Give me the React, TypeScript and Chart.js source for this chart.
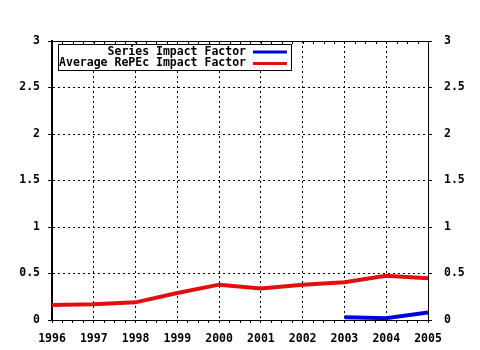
import React, { useEffect, useRef } from "react";
import { Chart, registerables } from "chart.js";

Chart.register(...registerables);

const years = [1996, 1997, 1998, 1999, 2000, 2001, 2002, 2003, 2004, 2005];
const seriesImpact: (number | null)[] = [null, null, null, null, null, null, null, 0.03, 0.02, 0.08];
const averageImpact = [0.16, 0.17, 0.19, 0.29, 0.38, 0.34, 0.38, 0.405, 0.475, 0.45];
const yTicks = [0, 0.5, 1, 1.5, 2, 2.5, 3];
const seriesLabels = ["Series Impact Factor", "Average RePEc Impact Factor"];
const seriesColors = ["#0000dd", "#e01010"];

const FONT = "'DejaVu Sans Mono', monospace";

const fmt = (v: number) => String(v);

const legendPlugin = {
  id: "customLegend",
  afterDraw(chart: any) {
    const ctx = chart.ctx;
    const ds = chart.data.datasets;
    ctx.save();
    ctx.fillStyle = "#ffffff";
    ctx.fillRect(58, 44, 234, 27);
    ctx.strokeStyle = "#000";
    ctx.lineWidth = 1;
    ctx.strokeRect(58.5, 44.5, 233, 26);
    ctx.font = `bold 11.5px ${FONT}`;
    ctx.textAlign = "right";
    ctx.textBaseline = "middle";
    ds.forEach((d: any, i: number) => {
      const y = 52 + i * 11.5;
      ctx.fillStyle = "#000";
      ctx.fillText(d.label, 246, y);
      ctx.strokeStyle = d.borderColor;
      ctx.lineWidth = 3;
      ctx.beginPath();
      ctx.moveTo(253, y);
      ctx.lineTo(287, y);
      ctx.stroke();
    });
    ctx.restore();
  },
};

const topTicksPlugin = {
  id: "topTicks",
  afterDatasetsDraw(chart: any) {
    const ctx = chart.ctx;
    const x = chart.scales.x;
    const area = chart.chartArea;
    ctx.save();
    ctx.strokeStyle = "#000";
    ctx.lineWidth = 1;
    ctx.beginPath();
    ctx.moveTo(area.left - 4, area.top + 0.5);
    ctx.lineTo(area.right + 4, area.top + 0.5);
    ctx.stroke();
    x.ticks.forEach((t: any) => {
      const px = Math.round(x.getPixelForValue(t.value)) + 0.5;
      ctx.beginPath();
      ctx.moveTo(px, area.top);
      ctx.lineTo(px, area.top + 3);
      ctx.stroke();
    });
    ctx.restore();
  },
};

export default function App() {
  const ref = useRef<HTMLCanvasElement>(null);
  useEffect(() => {
    document.body.style.margin = "0";
    const chart = new Chart(ref.current!, {
      type: "line",
      data: {
        datasets: [
          {
            label: seriesLabels[0],
            data: years.map((yr, i) => ({ x: yr, y: seriesImpact[i] })),
            borderColor: seriesColors[0],
            backgroundColor: seriesColors[0],
            borderWidth: 4,
            pointRadius: 0,
            tension: 0,
            spanGaps: false,
          },
          {
            label: seriesLabels[1],
            data: years.map((yr, i) => ({ x: yr, y: averageImpact[i] })),
            borderColor: seriesColors[1],
            backgroundColor: seriesColors[1],
            borderWidth: 4,
            pointRadius: 0,
            tension: 0,
          },
        ] as any,
      },
      options: {
        animation: false,
        responsive: false,
        layout: { padding: { top: 41, left: 0, right: 0, bottom: 0 } },
        plugins: { legend: { display: false }, tooltip: { enabled: false } },
        scales: {
          x: {
            type: "linear",
            min: years[0],
            max: years[years.length - 1],
            afterBuildTicks: (s: any) => {
              const t: any[] = [];
              for (let v = years[0]; v <= years[years.length - 1] + 1e-9; v += 0.25) t.push({ value: v });
              s.ticks = t;
            },
            afterFit: (s: any) => {
              s.height = 30;
            },
            ticks: {
              autoSkip: false,
              maxRotation: 0,
              padding: 9,
              color: "#000",
              font: { family: FONT, size: 11.5, weight: "bold" },
              callback: (v: any) => (Number.isInteger(v) ? String(v) : ""),
            },
            grid: {
              color: (c: any) => (c.tick && Number.isInteger(c.tick.value) ? "#000" : "rgba(0,0,0,0)"),
              tickColor: "#000",
              tickLength: 3,
              lineWidth: 1,
              drawTicks: true,
            },
            border: { display: true, color: "#000", width: 1, dash: [2, 3] },
          } as any,
          y: {
            type: "linear",
            position: "left",
            min: 0,
            max: 3,
            afterBuildTicks: (s: any) => {
              s.ticks = yTicks.map((v) => ({ value: v }));
            },
            afterFit: (s: any) => {
              s.width = 52;
            },
            ticks: {
              padding: 8,
              color: "#000",
              font: { family: FONT, size: 11.5, weight: "bold" },
              callback: (v: any) => fmt(v),
            },
            grid: { color: "#000", tickColor: "#000", tickLength: 4, lineWidth: 1 },
            border: { display: true, color: "#000", width: 2, dash: [2, 3] },
          } as any,
          y2: {
            type: "linear",
            position: "right",
            min: 0,
            max: 3,
            afterBuildTicks: (s: any) => {
              s.ticks = yTicks.map((v) => ({ value: v }));
            },
            afterFit: (s: any) => {
              s.width = 52;
            },
            ticks: {
              padding: 12,
              color: "#000",
              font: { family: FONT, size: 11.5, weight: "bold" },
              callback: (v: any) => fmt(v),
            },
            grid: { drawOnChartArea: false, tickColor: "#000", tickLength: 4 },
            border: { display: true, color: "#000", width: 1 },
          } as any,
        },
      },
      plugins: [topTicksPlugin, legendPlugin],
    });
    return () => chart.destroy();
  }, []);
  return (
    <div style={{ position: "absolute", left: 0, top: 0, width: 480, height: 350, background: "#fff" }}>
      <canvas ref={ref} width={480} height={350} />
    </div>
  );
}
